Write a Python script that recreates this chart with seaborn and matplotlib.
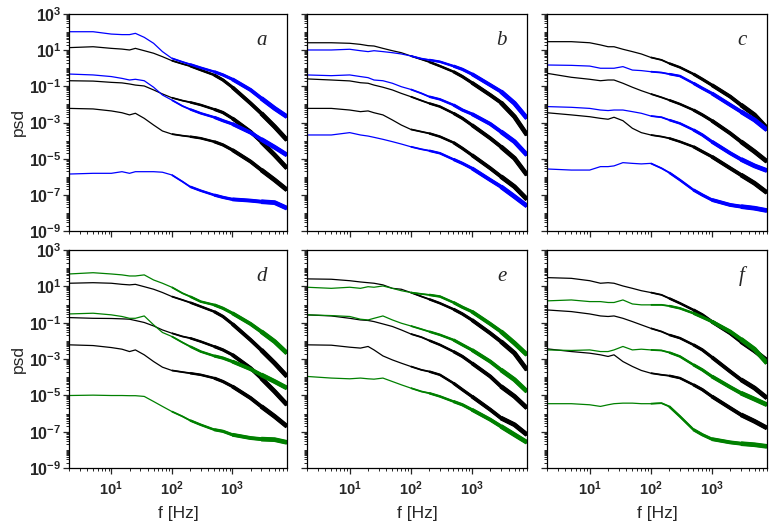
import numpy as np
import pandas as pd
import matplotlib
matplotlib.use("Agg")
import matplotlib.pyplot as plt
import matplotlib.ticker as mticker
import seaborn as sns

# ---------------- data ----------------
FREQ_HZ = [2, 5, 10, 15, 20, 25, 35, 50, 70, 100, 150, 200, 300, 500, 700,
           1000, 2000, 3000, 5000, 8000]

# log10(psd) for each curve
A_BLACK1 = [1.14, 1.19, 1.10, 1.06, 1.01, 1.10, 0.97, 0.83, 0.64, 0.42, 0.24, 0.12, -0.10, -0.37, -0.65, -1.05, -1.94, -2.49, -3.23, -3.97]
A_BLACK2 = [-0.69, -0.71, -0.78, -0.81, -0.87, -0.93, -0.98, -1.20, -1.42, -1.63, -1.79, -1.88, -2.03, -2.27, -2.45, -2.77, -3.51, -4.06, -4.80, -5.53]
A_BLACK3 = [-2.22, -2.25, -2.36, -2.46, -2.58, -2.49, -2.77, -3.14, -3.47, -3.64, -3.73, -3.78, -3.87, -4.06, -4.24, -4.52, -5.16, -5.62, -6.18, -6.73]
A_BLUE1 = [2.02, 2.02, 1.89, 1.86, 1.86, 1.93, 1.71, 1.38, 0.92, 0.55, 0.35, 0.22, 0.03, -0.19, -0.37, -0.61, -1.20, -1.66, -2.22, -2.68]
A_BLUE2 = [-0.32, -0.37, -0.46, -0.56, -0.65, -0.61, -0.69, -1.05, -1.48, -1.76, -2.09, -2.27, -2.49, -2.71, -2.90, -3.08, -3.56, -3.93, -4.37, -4.80]
A_BLUE3 = [-5.85, -5.81, -5.81, -5.72, -5.81, -5.72, -5.72, -5.72, -5.75, -5.90, -6.27, -6.55, -6.77, -7.01, -7.14, -7.25, -7.32, -7.38, -7.43, -7.74]

B_BLACK1 = [1.41, 1.41, 1.38, 1.32, 1.25, 1.23, 1.10, 0.97, 0.86, 0.68, 0.49, 0.35, 0.12, -0.19, -0.46, -0.80, -1.48, -1.90, -2.68, -3.69]
B_BLACK2 = [-0.59, -0.65, -0.70, -0.80, -0.83, -0.93, -1.05, -1.20, -1.39, -1.57, -1.79, -1.94, -2.12, -2.49, -2.77, -3.14, -3.87, -4.34, -4.98, -5.90]
B_BLACK3 = [-2.22, -2.22, -2.31, -2.40, -2.36, -2.46, -2.58, -2.86, -3.14, -3.38, -3.51, -3.60, -3.78, -4.11, -4.43, -4.80, -5.53, -5.99, -6.55, -7.25]
B_BLUE1 = [1.01, 1.01, 1.05, 0.97, 0.92, 0.97, 0.92, 0.86, 0.79, 0.68, 0.53, 0.46, 0.36, 0.12, -0.06, -0.32, -0.93, -1.29, -1.94, -2.77]
B_BLUE2 = [-0.37, -0.41, -0.37, -0.46, -0.52, -0.65, -0.69, -0.83, -1.02, -1.17, -1.39, -1.57, -1.72, -2.03, -2.31, -2.53, -3.08, -3.51, -4.06, -4.80]
B_BLUE3 = [-3.69, -3.69, -3.56, -3.69, -3.75, -3.82, -3.93, -4.06, -4.19, -4.34, -4.48, -4.56, -4.70, -5.04, -5.26, -5.53, -6.18, -6.55, -7.10, -7.62]

C_BLACK1 = [1.47, 1.47, 1.41, 1.29, 1.19, 1.19, 1.05, 0.92, 0.79, 0.60, 0.46, 0.27, 0.05, -0.32, -0.61, -0.93, -1.57, -2.03, -2.58, -3.32]
C_BLACK2 = [-0.28, -0.50, -0.61, -0.69, -0.65, -0.65, -0.83, -1.05, -1.24, -1.42, -1.61, -1.76, -1.98, -2.31, -2.58, -2.90, -3.60, -4.06, -4.61, -5.16]
C_BLACK3 = [-2.46, -2.58, -2.68, -2.77, -2.82, -2.71, -2.90, -3.32, -3.56, -3.69, -3.78, -3.87, -4.06, -4.34, -4.61, -4.89, -5.53, -5.90, -6.36, -6.88]
C_BLUE1 = [0.18, 0.16, 0.12, 0.00, 0.00, 0.00, 0.09, -0.10, -0.13, -0.19, -0.24, -0.32, -0.43, -0.83, -1.11, -1.39, -2.03, -2.40, -2.86, -3.41]
C_BLUE2 = [-2.12, -2.16, -2.22, -2.31, -2.34, -2.31, -2.31, -2.40, -2.49, -2.64, -2.71, -2.86, -3.05, -3.41, -3.69, -4.06, -4.70, -5.04, -5.40, -5.66]
C_BLUE3 = [-5.57, -5.63, -5.63, -5.44, -5.44, -5.40, -5.22, -5.26, -5.29, -5.26, -5.53, -5.77, -6.18, -6.73, -7.01, -7.28, -7.56, -7.65, -7.74, -7.87]

D_BLACK1 = [1.17, 1.20, 1.17, 1.11, 1.08, 1.11, 0.98, 0.84, 0.66, 0.44, 0.25, 0.11, -0.11, -0.39, -0.66, -1.07, -1.95, -2.50, -3.23, -3.96]
D_BLACK2 = [-0.72, -0.76, -0.77, -0.79, -0.81, -0.88, -0.99, -1.18, -1.40, -1.58, -1.76, -1.85, -2.04, -2.31, -2.50, -2.77, -3.50, -4.05, -4.79, -5.52]
D_BLACK3 = [-2.22, -2.26, -2.37, -2.46, -2.59, -2.50, -2.77, -3.14, -3.45, -3.63, -3.72, -3.78, -3.87, -4.05, -4.24, -4.51, -5.15, -5.61, -6.16, -6.71]
D_GREEN1 = [1.68, 1.75, 1.68, 1.63, 1.57, 1.57, 1.63, 1.35, 1.17, 0.95, 0.62, 0.44, 0.16, -0.02, -0.21, -0.48, -1.07, -1.49, -2.04, -2.68]
D_GREEN2 = [-0.52, -0.48, -0.57, -0.66, -0.76, -0.76, -0.63, -1.12, -1.54, -1.76, -2.09, -2.31, -2.59, -2.83, -2.95, -3.14, -3.56, -3.87, -4.24, -4.60]
D_GREEN3 = [-5.01, -4.99, -5.01, -5.01, -5.02, -5.02, -5.06, -5.34, -5.61, -5.89, -6.16, -6.38, -6.62, -6.89, -6.98, -7.17, -7.35, -7.41, -7.44, -7.59]

E_BLACK1 = [1.41, 1.39, 1.31, 1.24, 1.20, 1.17, 1.08, 0.89, 0.84, 0.66, 0.44, 0.29, 0.07, -0.26, -0.52, -0.85, -1.58, -2.04, -2.68, -3.60]
E_BLACK2 = [-0.57, -0.63, -0.76, -0.85, -0.88, -0.94, -1.07, -1.21, -1.40, -1.62, -1.80, -1.98, -2.22, -2.59, -2.86, -3.23, -3.96, -4.51, -5.06, -5.70]
E_BLACK3 = [-2.22, -2.24, -2.35, -2.40, -2.31, -2.50, -2.83, -3.05, -3.23, -3.41, -3.60, -3.69, -3.87, -4.33, -4.69, -5.06, -5.79, -6.25, -6.62, -7.17]
E_GREEN1 = [0.95, 0.89, 0.95, 0.89, 0.98, 0.95, 1.02, 0.89, 0.76, 0.66, 0.58, 0.53, 0.44, 0.11, -0.15, -0.39, -1.07, -1.49, -2.13, -2.77]
E_GREEN2 = [-0.57, -0.61, -0.66, -0.81, -0.85, -0.76, -0.63, -0.85, -1.03, -1.18, -1.36, -1.49, -1.67, -1.95, -2.22, -2.50, -3.14, -3.60, -4.14, -4.79]
E_GREEN3 = [-3.96, -4.05, -4.09, -4.05, -4.09, -4.11, -4.05, -4.24, -4.42, -4.60, -4.79, -4.88, -5.06, -5.34, -5.52, -5.79, -6.34, -6.71, -7.17, -7.59]

F_BLACK1 = [1.48, 1.44, 1.31, 1.17, 1.20, 1.17, 1.02, 0.89, 0.76, 0.66, 0.53, 0.34, 0.07, -0.30, -0.57, -0.94, -1.58, -2.04, -2.55, -3.08]
F_BLACK2 = [-0.30, -0.39, -0.52, -0.63, -0.66, -0.63, -0.76, -0.94, -1.12, -1.31, -1.49, -1.67, -1.85, -2.22, -2.50, -2.90, -3.69, -4.14, -4.60, -5.15]
F_BLACK3 = [-2.44, -2.59, -2.68, -2.77, -2.86, -2.77, -3.14, -3.41, -3.63, -3.78, -3.87, -3.92, -4.05, -4.42, -4.69, -5.06, -5.70, -6.07, -6.43, -6.80]
F_GREEN1 = [0.20, 0.25, 0.16, 0.16, 0.11, 0.11, 0.25, 0.03, -0.02, -0.02, -0.02, -0.08, -0.21, -0.48, -0.70, -0.94, -1.49, -1.91, -2.46, -3.23]
F_GREEN2 = [-2.50, -2.53, -2.50, -2.59, -2.59, -2.50, -2.31, -2.50, -2.46, -2.50, -2.53, -2.64, -2.86, -3.32, -3.60, -3.96, -4.55, -4.88, -5.21, -5.52]
F_GREEN3 = [-5.46, -5.46, -5.52, -5.61, -5.52, -5.46, -5.43, -5.43, -5.46, -5.46, -5.43, -5.61, -6.16, -6.89, -7.17, -7.41, -7.59, -7.66, -7.72, -7.81]

PANEL_LETTERS = ["a", "b", "c", "d", "e", "f"]
Y_TICK_EXPONENTS = [3, 1, -1, -3, -5, -7, -9]
X_TICK_EXPONENTS = [1, 2, 3]

BLACK = "#000000"
BLUE = "#0000FF"
GREEN = "#008000"

PANELS = {
    "a": [(A_BLACK1, BLACK), (A_BLACK2, BLACK), (A_BLACK3, BLACK), (A_BLUE1, BLUE), (A_BLUE2, BLUE), (A_BLUE3, BLUE)],
    "b": [(B_BLACK1, BLACK), (B_BLACK2, BLACK), (B_BLACK3, BLACK), (B_BLUE1, BLUE), (B_BLUE2, BLUE), (B_BLUE3, BLUE)],
    "c": [(C_BLACK1, BLACK), (C_BLACK2, BLACK), (C_BLACK3, BLACK), (C_BLUE1, BLUE), (C_BLUE2, BLUE), (C_BLUE3, BLUE)],
    "d": [(D_BLACK1, BLACK), (D_BLACK2, BLACK), (D_BLACK3, BLACK), (D_GREEN1, GREEN), (D_GREEN2, GREEN), (D_GREEN3, GREEN)],
    "e": [(E_BLACK1, BLACK), (E_BLACK2, BLACK), (E_BLACK3, BLACK), (E_GREEN1, GREEN), (E_GREEN2, GREEN), (E_GREEN3, GREEN)],
    "f": [(F_BLACK1, BLACK), (F_BLACK2, BLACK), (F_BLACK3, BLACK), (F_GREEN1, GREEN), (F_GREEN2, GREEN), (F_GREEN3, GREEN)],
}

# ---------------- style ----------------
sns.set_style("ticks")
plt.rcParams["font.family"] = ["Liberation Sans", "DejaVu Sans"]
plt.rcParams["mathtext.fontset"] = "custom"
plt.rcParams["mathtext.rm"] = "Liberation Sans"
plt.rcParams["mathtext.it"] = "Liberation Sans:italic"
plt.rcParams["mathtext.bf"] = "Liberation Sans:bold"
plt.rcParams["axes.linewidth"] = 0.9

fig = plt.figure(figsize=(7.8, 5.21), dpi=100)

W = 780.0
H = 521.0
col_left = [69, 307, 547]
col_width = [218, 220, 220]
row_top = [14, 250]
row_height = [217, 218]

# thickness layers emulate the dense noisy traces at high frequency
LAYERS = [(0, 0.9), (100, 1.3), (200, 1.8), (500, 2.3), (1000, 2.8), (3000, 3.4)]


def tick_text(e):
    return r"$\mathbf{10^{%d}}$" % e


for idx, letter in enumerate(PANEL_LETTERS):
    r, c = divmod(idx, 3)
    rect = [col_left[c] / W, 1 - (row_top[r] + row_height[r]) / H,
            col_width[c] / W, row_height[r] / H]
    ax = fig.add_axes(rect)
    ax.set_xscale("log")
    ax.set_yscale("log")

    for vals, color in PANELS[letter]:
        df = pd.DataFrame({"f": FREQ_HZ, "psd": [10.0 ** v for v in vals]})
        for fmin, lw in LAYERS:
            sub = df[df["f"] >= fmin]
            sns.lineplot(data=sub, x="f", y="psd", ax=ax, color=color,
                         linewidth=lw, sort=False, estimator=None,
                         solid_capstyle="butt", solid_joinstyle="round")

    ax.set_xlim(2, 8000)
    ax.set_ylim(1e-9, 1e3)

    ax.yaxis.set_major_locator(mticker.FixedLocator([10.0 ** e for e in Y_TICK_EXPONENTS]))
    ax.yaxis.set_minor_locator(mticker.LogLocator(base=10, subs=np.arange(1, 10), numticks=40))
    ax.xaxis.set_major_locator(mticker.FixedLocator([10.0 ** e for e in X_TICK_EXPONENTS]))
    ax.xaxis.set_minor_locator(mticker.LogLocator(base=10, subs=np.arange(2, 10), numticks=40))

    ax.tick_params(which="major", direction="out", length=4, width=0.9, pad=1.5)
    ax.tick_params(which="minor", direction="out", length=2, width=0.7)
    ax.tick_params(top=False, right=False)
    ax.tick_params(axis="y", labelsize=11.5)
    ax.tick_params(axis="x", labelsize=10.5, pad=4)

    if c == 0:
        ax.yaxis.set_major_formatter(mticker.FixedFormatter(
            [tick_text(e) for e in Y_TICK_EXPONENTS]))
        ax.set_ylabel("psd", fontsize=12.5, labelpad=2)
    else:
        ax.yaxis.set_major_formatter(mticker.NullFormatter())
        ax.set_ylabel("")
    ax.yaxis.set_minor_formatter(mticker.NullFormatter())

    if r == 1:
        ax.xaxis.set_major_formatter(mticker.FixedFormatter(
            [tick_text(e) for e in X_TICK_EXPONENTS]))
        ax.set_xlabel("f [Hz]", fontsize=12.5, labelpad=6)
    else:
        ax.xaxis.set_major_formatter(mticker.NullFormatter())
        ax.set_xlabel("")
    ax.xaxis.set_minor_formatter(mticker.NullFormatter())

    for sp in ax.spines.values():
        sp.set_visible(True)
        sp.set_color("black")

    ax.text(0.885, 0.88, letter, transform=ax.transAxes, ha="center",
            va="center", fontsize=15, style="italic",
            family=["Liberation Serif", "DejaVu Serif"])

fig.savefig("out.png", dpi=100)
